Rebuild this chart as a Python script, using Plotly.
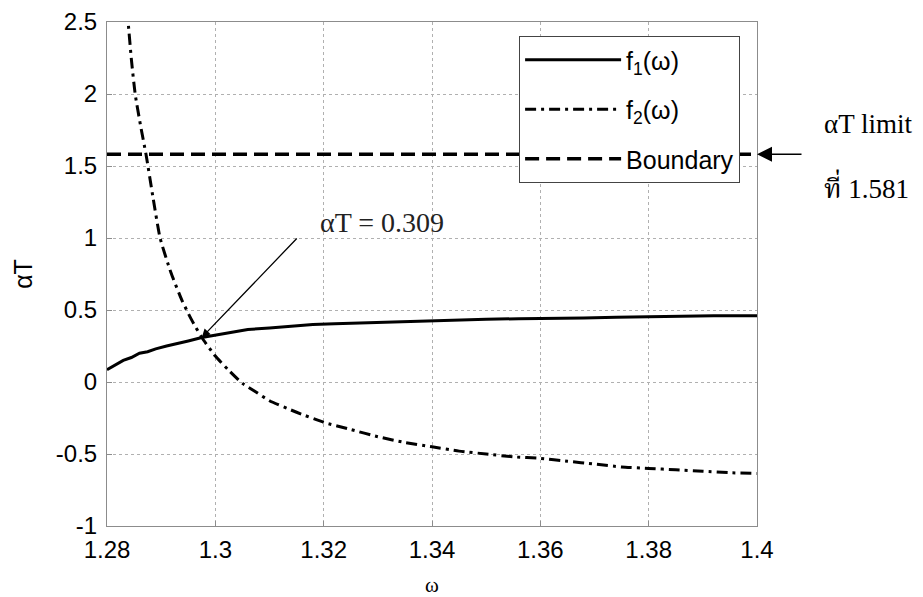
import plotly.graph_objects as go

# f1(omega): slowly rising branch
omega_f1 = [1.280, 1.2815, 1.283, 1.2845, 1.286, 1.2875, 1.289, 1.291, 1.293, 1.295,
            1.2975, 1.300, 1.303, 1.306, 1.310, 1.314, 1.318, 1.322, 1.326, 1.330,
            1.335, 1.340, 1.345, 1.350, 1.356, 1.362, 1.368, 1.374, 1.380, 1.386,
            1.392, 1.400]
aT_f1 = [0.085, 0.12, 0.15, 0.17, 0.20, 0.21, 0.23, 0.25, 0.27, 0.285,
         0.309, 0.325, 0.345, 0.365, 0.375, 0.39, 0.40, 0.405, 0.41, 0.415,
         0.42, 0.425, 0.43, 0.435, 0.44, 0.44, 0.445, 0.45, 0.455, 0.455,
         0.46, 0.46]

# f2(omega): steeply falling branch
omega_f2 = [1.2833, 1.2839, 1.2845, 1.2852, 1.2862, 1.2872, 1.2885, 1.2898, 1.2918, 1.2938,
            1.2955, 1.2975, 1.300, 1.3025, 1.305, 1.3075, 1.310, 1.315, 1.320, 1.325,
            1.330, 1.335, 1.340, 1.345, 1.350, 1.355, 1.360, 1.365, 1.370, 1.375,
            1.380, 1.385, 1.390, 1.395, 1.400]
aT_f2 = [2.75, 2.5, 2.24, 2.0, 1.78, 1.581, 1.28, 1.0, 0.76, 0.57,
         0.44, 0.309, 0.18, 0.08, -0.01, -0.07, -0.13, -0.21, -0.28, -0.33,
         -0.38, -0.42, -0.45, -0.48, -0.50, -0.52, -0.53, -0.55, -0.57, -0.59,
         -0.60, -0.61, -0.62, -0.63, -0.635]

# Boundary (alpha*T limit)
omega_bound = [1.28, 1.40]
aT_limit = 1.581
aT_cross = 0.309
omega_cross = 1.2975

x_ticks = [1.28, 1.30, 1.32, 1.34, 1.36, 1.38, 1.40]
x_ticktext = ["1.28", "1.3", "1.32", "1.34", "1.36", "1.38", "1.4"]
y_ticks = [-1, -0.5, 0, 0.5, 1, 1.5, 2, 2.5]
y_ticktext = ["-1", "-0.5", "0", "0.5", "1", "1.5", "2", "2.5"]

sans = "Liberation Sans, Arial, Helvetica, sans-serif"
serif = "Liberation Serif, Times New Roman, serif"
thai = "Liberation Serif, Noto Serif Thai, Noto Sans Thai, Loma, Garuda, Norasi, serif"

fig = go.Figure()
fig.add_trace(go.Scatter(
    x=omega_f1, y=aT_f1, mode="lines", name="f<sub>1</sub>(ω)", legendgroup="a",
    line=dict(color="black", width=3)))
fig.add_trace(go.Scatter(
    x=omega_f2, y=aT_f2, mode="lines", name="f<sub>2</sub>(ω)", legendgroup="b",
    line=dict(color="black", width=3, dash="11px,5px,3px,5px", shape="spline", smoothing=0.5)))
fig.add_trace(go.Scatter(
    x=omega_bound, y=[aT_limit] * len(omega_bound), mode="lines", name="Boundary",
    legendgroup="c", line=dict(color="black", width=3.5, dash="14px,7px")))

axis_common = dict(
    showline=True, linecolor="#8c8c8c", linewidth=1, mirror=True,
    showgrid=True, gridcolor="#b0b0b0", griddash="dot", gridwidth=1,
    ticks="inside", ticklen=5, tickcolor="#8c8c8c",
    tickfont=dict(family=sans, size=24, color="black"),
    zeroline=False, automargin=False,
)

fig.update_xaxes(
    range=[1.28, 1.40], tickvals=x_ticks, ticktext=x_ticktext,
    ticklabelstandoff=2,
    title=dict(text="ω", font=dict(family=serif, size=21, color="black"), standoff=20),
    **axis_common)
fig.update_yaxes(
    range=[-1, 2.5], tickvals=y_ticks, ticktext=y_ticktext,
    ticklabelstandoff=4,
    title=dict(text="αT", font=dict(family=sans, size=25, color="black"), standoff=16),
    **axis_common)

# Intersection marker text and arrow
fig.add_annotation(
    x=omega_cross, y=aT_cross, xref="x", yref="y",
    ax=1.3153, ay=1.007, axref="x", ayref="y",
    showarrow=True, arrowhead=2, arrowsize=1.3, arrowwidth=1.3, arrowcolor="black",
    text="")
fig.add_annotation(
    x=0.423, y=0.603, xref="paper", yref="paper",
    text="αT = " + f"{aT_cross:.3f}", showarrow=False,
    font=dict(family=serif, size=28, color="#222"), xanchor="center", yanchor="middle")

# Boundary label outside the axes
fig.add_annotation(
    x=1.0, y=aT_limit, xref="paper", yref="y",
    ax=46, ay=0, showarrow=True, arrowhead=2, arrowsize=2, arrowwidth=1.5,
    arrowcolor="black", text="")
fig.add_annotation(
    x=1.1, y=0.798, xref="paper", yref="paper", text="αT limit", showarrow=False,
    font=dict(family=serif, size=27, color="black"), xanchor="left", yanchor="middle")
fig.add_annotation(
    x=1.1, y=0.673, xref="paper", yref="paper", text="ที่ " + f"{aT_limit:.3f}",
    showarrow=False, font=dict(family=thai, size=27, color="black"),
    xanchor="left", yanchor="middle")

fig.update_layout(
    width=923, height=597,
    margin=dict(l=107, r=166, t=22, b=71),
    paper_bgcolor="white", plot_bgcolor="white",
    showlegend=True,
    legend=dict(
        x=0.634, y=0.972, xanchor="left", yanchor="top",
        bgcolor="white", bordercolor="#444", borderwidth=1,
        font=dict(family=sans, size=25, color="black"),
        traceorder="grouped", tracegroupgap=14, itemwidth=96,
    ),
)

fig.write_html("out.html")
